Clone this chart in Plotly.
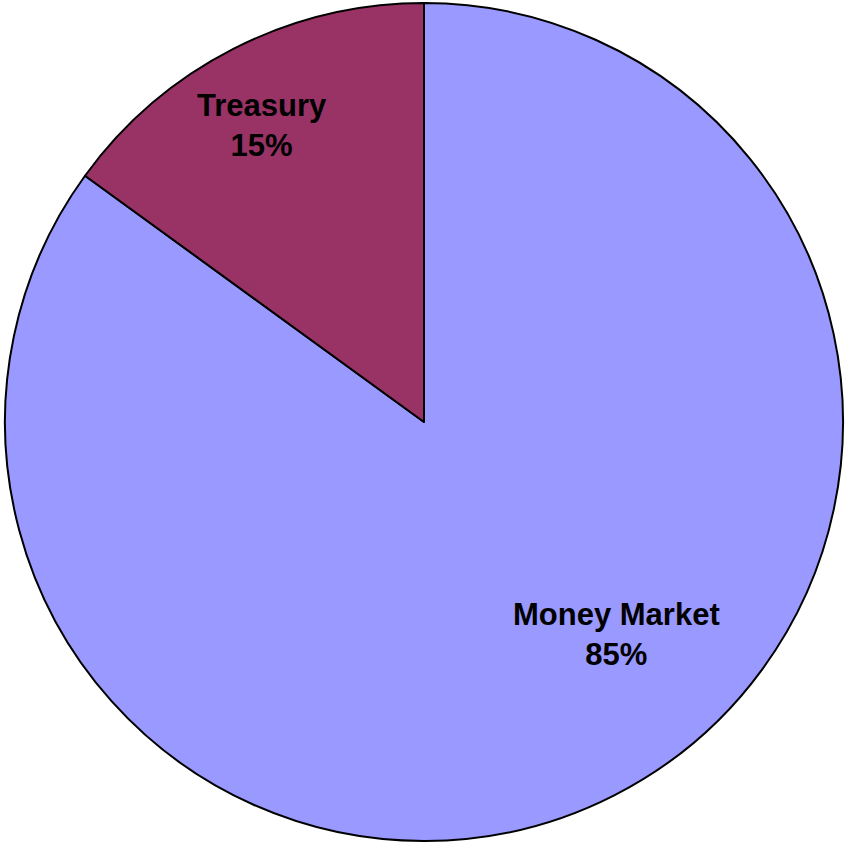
import math
import plotly.graph_objects as go

labels = ["Money Market", "Treasury"]
values = [85, 15]
colors = ["#9999FF", "#993366"]

# label placement style (radius fraction, angular nudge in degrees)
label_radius = [0.683, 0.807]
label_angle_shift = [-15.2, -1.6]

W, H = 846, 850
ML, MR, MT, MB = 4, 2, 3, 9

fig = go.Figure(go.Pie(
    labels=labels,
    values=values,
    sort=False,
    direction="clockwise",
    rotation=0,
    marker=dict(colors=colors, line=dict(color="#000000", width=2)),
    textinfo="none",
    showlegend=False,
    hoverinfo="label+percent",
))

# compute label positions from the data
pw, ph = W - ML - MR, H - MT - MB
R = min(pw, ph) / 2
cx, cy = pw / 2, ph / 2  # within plot area, y from top
total = sum(values)
cum = 0
annotations = []
for lab, v, rf, sh in zip(labels, values, label_radius, label_angle_shift):
    mid = (cum + v / 2) / total * 360 + sh
    cum += v
    a = math.radians(mid)
    px = cx + rf * R * math.sin(a)
    py = cy - rf * R * math.cos(a)
    pct = round(v / total * 100)
    annotations.append(dict(
        x=px / pw, y=1 - py / ph, xref="paper", yref="paper",
        text=f"<b>{lab}</b><br><b>{pct}%</b>",
        showarrow=False, xanchor="center", yanchor="middle",
        font=dict(family="Liberation Sans, Arial, sans-serif", size=31, color="#000000"),
    ))

fig.update_layout(
    width=W,
    height=H,
    margin=dict(l=ML, r=MR, t=MT, b=MB),
    paper_bgcolor="#FFFFFF",
    plot_bgcolor="#FFFFFF",
    annotations=annotations,
)

fig.write_html("out.html", config={"displayModeBar": False},
               post_script="document.body.style.margin='0';")
